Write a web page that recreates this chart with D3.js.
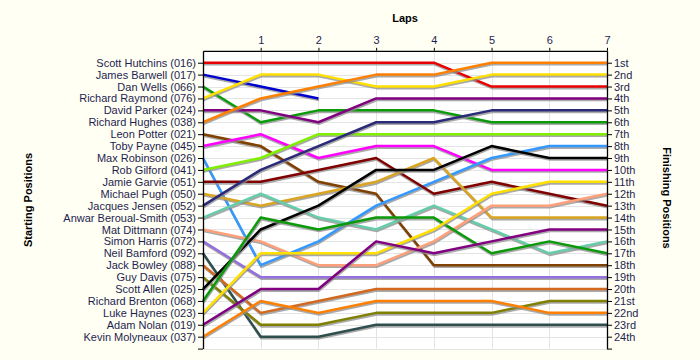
<!DOCTYPE html>
<html>
<head>
<meta charset="utf-8">
<script src="https://cdn.jsdelivr.net/npm/d3@7"></script>
<style>
  html, body { margin: 0; padding: 0; background: #fffff4; }
  svg { display: block; }
  text { font-family: "Liberation Sans", Arial, sans-serif; }
</style>
</head>
<body>
<svg id="chart" width="700" height="360"></svg>
<script>
// ---- data ----
const laps = [0, 1, 2, 3, 4, 5, 6, 7];
const lapTicks = [1, 2, 3, 4, 5, 6, 7];
const drivers = [
  "Scott Hutchins (016)", "James Barwell (017)", "Dan Wells (066)", "Richard Raymond (076)",
  "David Parker (024)", "Richard Hughes (038)", "Leon Potter (021)", "Toby Payne (045)",
  "Max Robinson (026)", "Rob Gilford (041)", "Jamie Garvie (051)", "Michael Pugh (050)",
  "Jacques Jensen (052)", "Anwar Beroual-Smith (053)", "Mat Dittmann (074)", "Simon Harris (072)",
  "Neil Bamford (092)", "Jack Bowley (088)", "Guy Davis (075)", "Scott Allen (025)",
  "Richard Brenton (068)", "Luke Haynes (023)", "Adam Nolan (019)", "Kevin Molyneaux (037)"
];
const finishLabels = ["1st","2nd","3rd","4th","5th","6th","7th","8th","9th","10th","11th","12th",
  "13th","14th","15th","16th","17th","18th","19th","20th","21st","22nd","23rd","24th"];
// position of each driver at laps 0..7 (null = retired)
const positions = [
  [1, 1, 1, 1, 1, 3, 3, 3],
  [2, 3, 4, null, null, null, null, null],
  [3, 6, 5, 5, 5, 6, 6, 6],
  [4, 2, 2, 3, 3, 2, 2, 2],
  [5, 5, 6, 4, 4, 4, 4, 4],
  [6, 4, 3, 2, 2, 1, 1, 1],
  [7, 8, 11, 12, 18, 18, 18, 18],
  [8, 7, 9, 8, 8, 10, 10, 10],
  [9, 18, 16, 13, 11, 9, 8, 8],
  [10, 9, 7, 7, 7, 7, 7, 7],
  [11, 11, 10, 9, 12, 11, 12, 13],
  [12, 13, 12, 11, 9, 14, 14, 14],
  [13, 10, 8, 6, 6, 5, 5, 5],
  [14, 12, 14, 15, 13, 15, 17, 16],
  [15, 16, 18, 18, 16, 13, 13, 12],
  [16, 19, 19, 19, 19, 19, 19, 19],
  [17, 24, 24, 23, 23, 23, 23, 23],
  [18, 22, 21, 20, 20, 20, 20, 20],
  [19, 23, 23, 22, 22, 22, 21, 21],
  [20, 15, 13, 10, 10, 8, 9, 9],
  [21, 14, 15, 14, 14, 17, 16, 17],
  [22, 17, 17, 17, 15, 12, 11, 11],
  [23, 20, 20, 16, 17, 16, 15, 15],
  [24, 21, 22, 21, 21, 21, 22, 22]
];
const colors = [
  "#e80000", "#0000cc", "#0a9a0a", "#ffe000", "#800080", "#ff8000", "#804000", "#ff00ff",
  "#3399ff", "#80f000", "#800000", "#daa520", "#2a2a78", "#66cdaa", "#ffa07a", "#9370db",
  "#2f4f4f", "#d2691e", "#808000", "#000000", "#0a9a0a", "#ffe000", "#800080", "#ff8000"
];

// ---- chart ----
const svg = d3.select("#chart");
const x = d3.scaleLinear().domain([0, 7]).range([203, 607]);
const y = d3.scaleLinear().domain([0, 25]).range([50.8, 348.6]);
const textColor = "#1e1e50";

// plot background
svg.append("rect")
  .attr("x", x(0)).attr("y", y(0))
  .attr("width", x(7) - x(0)).attr("height", y(25) - y(0))
  .attr("fill", "#ffffff");

// grid
const grid = svg.append("g").attr("stroke", "#e4e4e4").attr("stroke-width", 1);
grid.selectAll("line.h").data(d3.range(1, 26)).join("line")
  .attr("x1", x(0)).attr("x2", x(7))
  .attr("y1", d => Math.round(y(d)) + 0.5).attr("y2", d => Math.round(y(d)) + 0.5);
grid.selectAll("line.v").data([1, 2, 3, 4, 5, 6]).join("line")
  .attr("x1", d => Math.round(x(d)) + 0.5).attr("x2", d => Math.round(x(d)) + 0.5)
  .attr("y1", y(0)).attr("y2", y(25));

// lines
const line = d3.line()
  .defined(d => d.pos !== null)
  .x(d => x(d.lap))
  .y(d => y(d.pos));

const series = positions.map((p, i) => ({
  name: drivers[i],
  color: colors[i],
  values: laps.map((l, j) => ({ lap: l, pos: p[j] }))
}));

const lines = svg.append("g");
series.forEach(s => {
  lines.append("path")
    .attr("d", line(s.values))
    .attr("fill", "none")
    .attr("stroke", "#8c8c8c")
    .attr("stroke-opacity", 0.75)
    .attr("stroke-width", 2.5)
    .attr("stroke-linejoin", "round")
    .attr("transform", "translate(0.6,1.6)");
  lines.append("path")
    .attr("d", line(s.values))
    .attr("fill", "none")
    .attr("stroke", s.color)
    .attr("stroke-width", 2.5)
    .attr("stroke-linejoin", "round");
});

// axes
const posTicks = d3.range(1, 26);
const leftAxis = d3.axisLeft(y).tickValues(posTicks).tickSizeInner(5).tickSizeOuter(0)
  .tickPadding(2)
  .tickFormat(d => d <= drivers.length ? drivers[d - 1] : "");
const rightAxis = d3.axisRight(y).tickValues(posTicks).tickSizeInner(5).tickSizeOuter(0)
  .tickPadding(2)
  .tickFormat(d => d <= finishLabels.length ? finishLabels[d - 1] : "");
const topAxis = d3.axisTop(x).tickValues(lapTicks).tickSizeInner(3).tickSizeOuter(0)
  .tickPadding(4)
  .tickFormat(d3.format("d"));

function styleAxis(g) {
  g.selectAll("path.domain").attr("stroke", "#000").attr("stroke-width", 1.3);
  g.selectAll(".tick line").attr("stroke", "#000");
  g.selectAll(".tick text").attr("fill", textColor)
    .style("font-family", "'Liberation Sans', Arial, sans-serif").style("font-size", "11px");
}

svg.append("g").attr("transform", `translate(${x(7)},0)`).call(rightAxis).call(styleAxis);
svg.append("g").attr("transform", `translate(${x(0)},0)`).call(leftAxis).call(styleAxis);
svg.append("g").attr("transform", `translate(0,${y(0)})`).call(topAxis).call(styleAxis);

// titles
svg.append("text")
  .attr("x", 405).attr("y", 22)
  .attr("text-anchor", "middle")
  .attr("font-weight", "bold").attr("font-size", 11).attr("fill", "#000")
  .text("Laps");
svg.append("text")
  .attr("transform", "translate(32,200) rotate(-90)")
  .attr("text-anchor", "middle")
  .attr("font-weight", "bold").attr("font-size", 11).attr("fill", "#000")
  .text("Starting Positions");
svg.append("text")
  .attr("transform", "translate(663,198) rotate(90)")
  .attr("text-anchor", "middle")
  .attr("font-weight", "bold").attr("font-size", 11).attr("fill", "#000")
  .text("Finishing Positions");
</script>
</body>
</html>
